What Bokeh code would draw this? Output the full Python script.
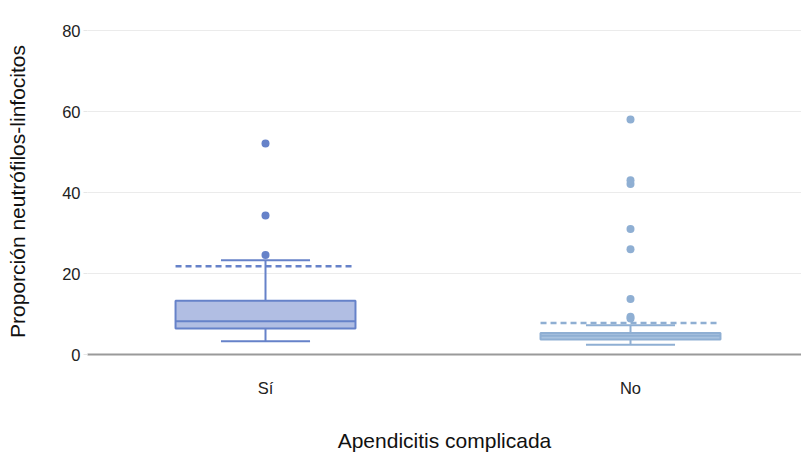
from bokeh.plotting import figure
from bokeh.models import Range1d, FixedTicker, ColumnDataSource
from bokeh.embed import file_html
from bokeh.resources import INLINE

# ---- data ----
categories = ["Sí", "No"]
xpos = [0, 1]
lower_whisker = [3.3, 2.4]
q1 = [6.4, 3.7]
median = [8.2, 4.6]
q3 = [13.3, 5.3]
upper_whisker = [23.3, 7.2]
mean_line = [21.8, 7.8]
outliers_si = [24.6, 34.3, 52.1]
outliers_no = [8.9, 9.3, 13.7, 26.0, 31.0, 42.1, 43.0, 58.0]
y_ticks = [0, 20, 40, 60, 80]

line_colors = ["#6682c9", "#8fafd3"]
fill_colors = ["#b1bee3", "#a8c2df"]

box_w = 0.493
cap_w = 0.244

FONT = "Liberation Sans"

p = figure(width=801, height=454, output_backend="svg", toolbar_location=None,
           x_range=Range1d(-0.4877, 1.4685), y_range=Range1d(0, 80.5),
           min_border_left=87, min_border_right=0, min_border_top=28,
           min_border_bottom=100)
p.outline_line_color = None
p.background_fill_color = "white"
p.border_fill_color = "white"

half_box = [x - box_w / 2 for x in xpos]
half_box_r = [x + box_w / 2 for x in xpos]
half_cap = [x - cap_w / 2 for x in xpos]
half_cap_r = [x + cap_w / 2 for x in xpos]

src = ColumnDataSource(dict(x=xpos, lo=lower_whisker, q1=q1, med=median, q3=q3,
                            hi=upper_whisker, mean=mean_line,
                            bl=half_box, br=half_box_r, cl=half_cap, cr=half_cap_r,
                            lc=line_colors, fc=fill_colors))

# whiskers (vertical stems)
p.segment(x0="x", y0="q3", x1="x", y1="hi", source=src, line_color="lc", line_width=2)
p.segment(x0="x", y0="lo", x1="x", y1="q1", source=src, line_color="lc", line_width=2)
# whisker caps
p.segment(x0="cl", y0="hi", x1="cr", y1="hi", source=src, line_color="lc", line_width=2)
p.segment(x0="cl", y0="lo", x1="cr", y1="lo", source=src, line_color="lc", line_width=2)
# boxes
p.vbar(x="x", bottom="q1", top="q3", width=box_w, source=src, fill_color="fc",
       line_color="lc", line_width=2)
# median
p.segment(x0="bl", y0="med", x1="br", y1="med", source=src, line_color="lc", line_width=2)
# dashed mean lines
p.segment(x0="bl", y0="mean", x1="br", y1="mean", source=src, line_color="lc",
          line_width=2.5, line_dash="6 4")

# outliers
p.scatter(x=[xpos[0]] * len(outliers_si), y=outliers_si, size=8,
          fill_color=line_colors[0], line_color=None)
p.scatter(x=[xpos[1]] * len(outliers_no), y=outliers_no, size=8,
          fill_color=line_colors[1], line_color=None)

# axes styling
p.xgrid.grid_line_color = None
p.ygrid.grid_line_color = "#ebebeb"
p.ygrid.grid_line_width = 1

p.yaxis.ticker = FixedTicker(ticks=y_ticks)
p.yaxis.axis_line_color = None
p.yaxis.major_tick_out = 4
p.yaxis.major_tick_in = 0
p.yaxis.major_tick_line_color = "#e6e6e6"
p.yaxis.minor_tick_line_color = None
p.yaxis.major_label_standoff = 3
p.yaxis.major_label_text_font = FONT
p.yaxis.major_label_text_font_size = "16.5px"
p.yaxis.major_label_text_color = "#222222"
p.yaxis.axis_label = "Proporción neutrófilos-linfocitos"
p.yaxis.axis_label_text_font = FONT
p.yaxis.axis_label_text_font_size = "21px"
p.yaxis.axis_label_text_font_style = "normal"
p.yaxis.axis_label_text_color = "#111111"
p.yaxis.axis_label_standoff = 30

p.xaxis.ticker = FixedTicker(ticks=xpos)
p.xaxis.major_label_overrides = {x: c for x, c in zip(xpos, categories)}
p.xaxis.axis_line_color = "#9a9a9a"
p.xaxis.axis_line_width = 2
p.xaxis.major_tick_line_color = None
p.xaxis.major_tick_out = 0
p.xaxis.minor_tick_line_color = None
p.xaxis.major_label_standoff = 24
p.xaxis.major_label_text_font = FONT
p.xaxis.major_label_text_font_size = "16.5px"
p.xaxis.major_label_text_color = "#222222"
p.xaxis.axis_label = "Apendicitis complicada"
p.xaxis.axis_label_text_font = FONT
p.xaxis.axis_label_text_font_size = "21px"
p.xaxis.axis_label_text_font_style = "normal"
p.xaxis.axis_label_text_color = "#111111"
p.xaxis.axis_label_standoff = 29

open("out.html", "w").write(file_html(p, INLINE))
